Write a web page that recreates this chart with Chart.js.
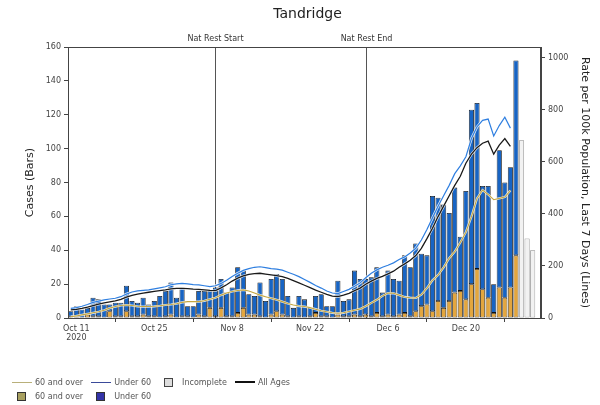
<!DOCTYPE html>
<html>
<head>
<meta charset="utf-8">
<script src="https://cdn.jsdelivr.net/npm/chart.js@4/dist/chart.umd.min.js"></script>
<style>
  body { margin: 0; background: #fff; }
  #wrap { position: relative; width: 600px; height: 405px; }
  #legend { position: absolute; left: 12px; top: 375px; font: 8px "DejaVu Sans", sans-serif; color: #555; }
  #legend .row { height: 14px; display: flex; align-items: center; }
  #legend .item { display: flex; align-items: center; margin-right: 8px; }
  #legend .ln { width: 20px; height: 0; border-top: 1px solid #777; margin-right: 3px; }
  #legend .box { width: 7px; height: 7px; border: 1px solid #333; margin: 0 9px 0 5px; }
</style>
</head>
<body>
<div id="wrap">
  <canvas id="chart" width="600" height="405"></canvas>
  <div id="legend">
    <div class="row">
      <div class="item"><span class="ln" style="border-color:#b9b07a"></span>60 and over</div>
      <div class="item"><span class="ln" style="border-color:#3a4a9a"></span>Under 60</div>
      <div class="item"><span class="box" style="background:#ddd;border-color:#444"></span>Incomplete</div>
      <div class="item"><span class="ln" style="border-top:2px solid #111"></span>All Ages</div>
    </div>
    <div class="row">
      <div class="item"><span class="box" style="background:#a8a060"></span>60 and over</div>
      <div class="item"><span class="box" style="background:#3434a8"></span>Under 60</div>
    </div>
  </div>
</div>
<script>
// daily cases, Oct 10 .. Dec 29 2020
const over60Cases = [
  1,1,0,2,1,1,0,4,1,1,4,1,1,2,1,1,0,1,2,0,1,1,
  0,2,1,6,1,6,1,1,3,6,2,2,1,0,2,4,2,1,0,1,0,1,3,1,1,0,2,1,1,2,
  1,2,1,3,1,2,1,2,3,1,4,7,8,4,10,6,10,15,16,11,20,29,17,12,3,18,12,18,37
];
const under60Cases = [
  3,6,5,4,11,10,8,4,8,8,15,9,8,10,7,9,13,15,19,12,17,6,
  7,14,15,10,17,17,14,17,27,22,12,11,20,10,21,22,21,12,6,12,11,5,10,13,6,7,20,9,10,26,
  22,21,23,27,14,26,22,20,34,29,40,31,29,68,61,61,52,62,32,64,103,98,61,66,17,81,68,71,115
];
// Dec 30 .. Jan 1 (incomplete)
const incompleteCases = [105, 47, 40];

// 7 day rate per 100k, Oct 10 .. Dec 28
const rateUnder60 = [
  37,40,45,52,60,65,70,73,76,82,92,100,104,106,108,112,116,120,128,131,133,131,
  128,127,124,121,124,133,145,160,172,183,190,195,197,194,190,188,184,176,168,159,148,137,125,115,104,96,94,102,110,122,
  135,155,172,185,195,203,212,225,235,250,268,300,340,385,430,470,510,555,585,620,690,735,760,765,700,740,772,730
];
const rateAll = [
  31,33,37,42,48,53,58,62,66,72,80,87,92,96,99,102,105,108,112,114,114,113,
  111,110,108,106,105,116,128,142,153,162,168,171,172,169,166,163,159,152,144,135,126,117,107,99,91,84,82,88,95,105,
  115,130,142,152,160,170,180,195,208,222,240,268,305,345,390,430,470,510,545,595,630,655,672,680,630,665,690,660
];
const rateOver60 = [
  5,8,12,16,20,24,30,38,44,48,50,48,45,44,44,45,47,50,52,55,60,63,
  63,63,66,72,78,88,96,102,106,108,104,96,88,82,76,70,63,56,50,46,44,40,34,28,24,20,18,20,25,30,
  35,45,58,70,85,96,95,88,81,78,77,90,115,145,165,195,230,255,290,330,390,460,492,475,455,460,465,490
];

const tickDates = ['Oct 11', 'Oct 25', 'Nov 8', 'Nov 22', 'Dec 6', 'Dec 20'];
const yearLabel = '2020';
const markers = [{ date: 'Nov 5', text: 'Nat Rest Start' }, { date: 'Dec 2', text: 'Nat Rest End' }];

// category labels: one per day Oct 10 2020 .. Jan 2 2021
const months = ['Jan','Feb','Mar','Apr','May','Jun','Jul','Aug','Sep','Oct','Nov','Dec'];
const days = [];
for (let i = 0; i < 85; i++) {
  const d = new Date(Date.UTC(2020, 9, 10 + i));
  days.push(months[d.getUTCMonth()] + ' ' + d.getUTCDate());
}

const pad = (arr, before, total) => {
  const out = new Array(total).fill(null);
  arr.forEach((v, i) => { out[before + i] = v; });
  return out;
};
const N = days.length;
const incompleteStart = days.indexOf('Dec 30');

const natRestPlugin = {
  id: 'natRest',
  beforeDatasetsDraw(chart) {
    const { ctx, chartArea, scales } = chart;
    ctx.save();
    ctx.strokeStyle = '#555';
    ctx.lineWidth = 1;
    ctx.fillStyle = '#333';
    ctx.font = '8px "DejaVu Sans"';
    ctx.textAlign = 'center';
    markers.forEach(m => {
      const x = Math.round(scales.x.getPixelForValue(days.indexOf(m.date))) + 0.5;
      ctx.beginPath();
      ctx.moveTo(x, chartArea.top);
      ctx.lineTo(x, chartArea.bottom);
      ctx.stroke();
      ctx.fillText(m.text, x, chartArea.top - 6);
    });
    ctx.restore();
  },
  afterDraw(chart) {
    const { ctx, chartArea } = chart;
    ctx.save();
    ctx.strokeStyle = '#444';
    ctx.lineWidth = 1;
    ctx.strokeRect(chartArea.left + 0.5, chartArea.top + 0.5, chartArea.width - 1, chartArea.height);
    ctx.restore();
  }
};

const tickFont = { family: 'DejaVu Sans', size: 8 };
const titleFont = { family: 'DejaVu Sans', size: 11 };
const line = (data, color, width, order) => ({
  type: 'line', data: pad(data, 0, N), yAxisID: 'y1',
  borderColor: color, borderWidth: width, pointRadius: 0, order
});
const bar = (label, data, fill, edge) => ({
  label, data, backgroundColor: fill, borderColor: edge, borderWidth: 0.8,
  borderSkipped: false, barPercentage: 0.92, categoryPercentage: 1, order: 3
});

new Chart(document.getElementById('chart').getContext('2d'), {
  type: 'bar',
  data: {
    labels: days,
    datasets: [
      line(rateOver60, '#c4a640', 1.1, 1),
      line(rateAll, '#1a1a1a', 1.3, 1),
      line(rateUnder60, '#2f7fe0', 1.2, 1),
      line(rateOver60, 'rgba(255,255,255,0.85)', 2.2, 2),
      line(rateAll, 'rgba(255,255,255,0.85)', 2.6, 2),
      line(rateUnder60, 'rgba(255,255,255,0.85)', 2.6, 2),
      bar('60 and over', pad(over60Cases, 0, N), '#e3a63e', '#111'),
      bar('Under 60', pad(under60Cases, 0, N), '#1764c4', '#111'),
      bar('Incomplete', pad(incompleteCases, incompleteStart, N), '#f2f2f2', '#888')
    ]
  },
  options: {
    responsive: false,
    animation: false,
    layout: { padding: { left: 20, right: 5, top: 0, bottom: 57 } },
    plugins: {
      legend: { display: false },
      tooltip: { enabled: false },
      title: {
        display: true, text: 'Tandridge', color: '#222',
        font: { family: 'DejaVu Sans', size: 14, weight: 'normal' },
        padding: { top: 6, bottom: 24.2 }
      }
    },
    scales: {
      x: {
        stacked: true,
        afterFit: s => { s.height = 30; },
        grid: { display: true, drawOnChartArea: false, tickLength: 4, color: '#444' },
        border: { color: '#444' },
        ticks: {
          autoSkip: false, maxRotation: 0, minRotation: 0, padding: 2, color: '#444', font: tickFont,
          callback: (v, i) => {
            const lbl = days[i];
            if (!tickDates.includes(lbl)) return null;
            return lbl === tickDates[0] ? [lbl, yearLabel] : lbl;
          }
        }
      },
      y: {
        stacked: true, position: 'left', min: 0, max: 160,
        afterFit: s => { s.width = 48; },
        grid: { drawOnChartArea: false, tickLength: 4, color: '#444' },
        border: { color: '#444' },
        ticks: { stepSize: 20, color: '#444', font: tickFont, padding: 3 },
        title: { display: true, text: 'Cases (Bars)', color: '#222', font: titleFont }
      },
      y1: {
        stacked: false, position: 'right', min: 0, max: 1042,
        afterFit: s => { s.width = 54; },
        grid: { drawOnChartArea: false, tickLength: 4, color: '#444' },
        border: { color: '#444' },
        ticks: { stepSize: 200, includeBounds: false, color: '#444', font: tickFont, padding: 3, callback: v => String(v) },
        title: { display: true, text: 'Rate per 100k Population, Last 7 Days (Lines)', color: '#222', font: titleFont }
      }
    }
  },
  plugins: [natRestPlugin]
});
</script>
</body>
</html>
